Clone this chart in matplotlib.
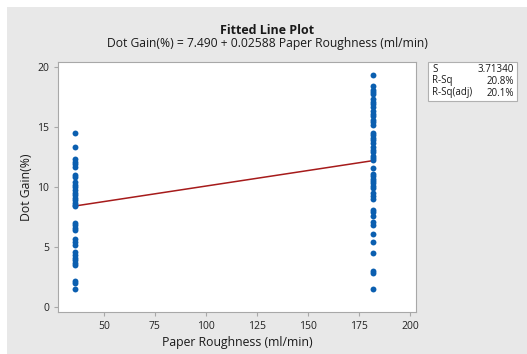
import numpy as np
import matplotlib.pyplot as plt
from matplotlib.patches import Rectangle

plt.rcParams['font.family'] = ['Open Sans', 'DejaVu Sans']

# roughness levels and measured dot gain
x_low = 36
x_high = 182
gain_low = [14.5, 13.3, 12.3, 12.1, 11.9, 11.7, 11.0, 10.8, 10.4, 10.2, 10.0, 9.75,
            9.5, 9.3, 9.1, 8.9, 8.7, 8.5, 8.4, 7.0, 6.8, 6.6, 6.4, 5.7, 5.4, 5.2,
            4.6, 4.3, 4.1, 3.9, 3.7, 3.5, 2.2, 2.0, 1.5]
gain_high = [19.3, 18.4, 18.1, 17.9, 17.75, 17.3, 17.1, 16.9, 16.7, 16.3, 16.1, 15.9,
             15.6, 15.4, 15.2, 14.5, 14.3, 14.1, 13.9, 13.7, 13.3, 13.1, 12.9, 12.6,
             12.4, 12.25, 11.6, 11.1, 10.9, 10.7, 10.5, 10.3, 10.1, 9.9, 9.5, 9.25,
             9.0, 8.1, 7.9, 7.6, 7.1, 6.8, 6.1, 5.4, 4.5, 3.0, 2.8, 1.5]
intercept = 7.490
slope = 0.02588
stats_names = ['S', 'R-Sq', 'R-Sq(adj)']
stats_vals = ['3.71340', '20.8%', '20.1%']

W, H = 527, 354
fig = plt.figure(figsize=(W / 100, H / 100), dpi=100, facecolor='white')
fig.patches.append(Rectangle((7 / W, 0), 1, 347 / H, transform=fig.transFigure,
                             facecolor='#e8e8e8', edgecolor='none', zorder=-1))

ax = fig.add_axes([58 / W, 1 - 312 / H, (416 - 58) / W, (312 - 62) / H])
ax.set_facecolor('white')

xs = [x_low] * len(gain_low) + [x_high] * len(gain_high)
ys = gain_low + gain_high
ax.scatter(xs, ys, s=18, color='#0b5fb0', zorder=3, linewidths=0)
lx = np.array([x_low, x_high])
ax.plot(lx, intercept + slope * lx, color='#a61b1b', lw=1.1, zorder=2)

ax.set_xlim(27.5, 203)
ax.set_ylim(-0.42, 20.42)
ax.set_xticks([50, 75, 100, 125, 150, 175, 200])
ax.set_yticks([0, 5, 10, 15, 20])
for sp in ax.spines.values():
    sp.set_color('#a8a8a8')
ax.tick_params(colors='#a8a8a8', labelcolor='#222222', labelsize=7.5, length=3, width=0.8)
ax.set_xlabel('Paper Roughness (ml/min)', fontsize=8.8, color='#1a1a1a', labelpad=3)
ax.set_ylabel('Dot Gain(%)', fontsize=8.8, color='#1a1a1a', labelpad=3)

fig.text(267 / W, 1 - 31 / H, 'Fitted Line Plot', ha='center', va='center',
         fontsize=9, fontweight='bold', color='#1a1a1a')
fig.text(267 / W, 1 - 44 / H, 'Dot Gain(%) = 7.490 + 0.02588 Paper Roughness (ml/min)',
         ha='center', va='center', fontsize=8.7, color='#1a1a1a')

# stats box
fig.patches.append(Rectangle((428 / W, 1 - 101 / H), 89 / W, 39 / H, transform=fig.transFigure,
                             facecolor='white', edgecolor='#b0b0b0', lw=0.8))
for i, (n, v) in enumerate(zip(stats_names, stats_vals)):
    yy = 1 - (69 + 12 * i) / H
    fig.text(432 / W, yy, n, ha='left', va='center', fontsize=7, color='#1a1a1a')
    fig.text(514 / W, yy, v, ha='right', va='center', fontsize=7, color='#1a1a1a')

fig.savefig('out.png', dpi=100, facecolor=fig.get_facecolor())
